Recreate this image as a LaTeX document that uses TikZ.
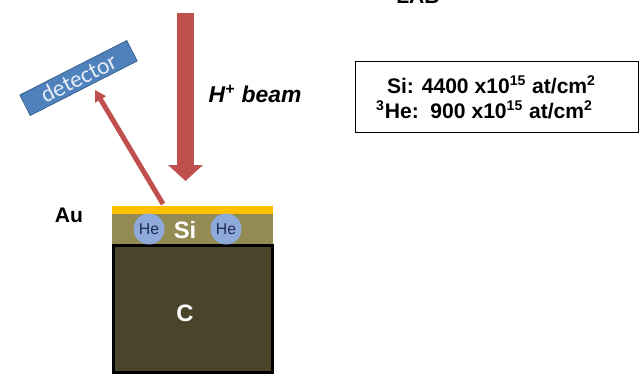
\documentclass[tikz,border=0pt]{standalone}
\usepackage{fontspec}
\setmainfont{Liberation Sans}
\newfontfamily\detfont{Carlito}
\usepackage{xcolor}
\usetikzlibrary{arrows.meta,calc,positioning}
\definecolor{beamred}{HTML}{C0504D}
\definecolor{detblue}{HTML}{4F81BD}
\definecolor{detedge}{HTML}{385D8A}
\definecolor{auyellow}{HTML}{FFC000}
\definecolor{siolive}{HTML}{948A54}
\definecolor{cbrown}{HTML}{4A452A}
\definecolor{heblue}{HTML}{8EAADB}
\definecolor{henavy}{HTML}{1F2A4D}
\tikzset{
    label/.style={font=\bfseries\fontsize{12}{14}\selectfont},
    layerlabel/.style={text=white, font=\bfseries\fontsize{13.5}{15}\selectfont},
    hebubble/.style={circle, fill=heblue, minimum size=0.62cm, inner sep=0pt, text=henavy, font=\fontsize{9}{11}\selectfont}
}

\begin{document}
\begin{tikzpicture}
    \useasboundingbox (0,0) rectangle (12.88,7.64);

    % TARGET: Au, Si and C layers
    \node[rectangle, fill=siolive, minimum width=3.22cm, minimum height=0.64cm, inner sep=0pt] (silayer) at (3.85,3.05) {};
    \node[rectangle, fill=auyellow, minimum width=3.22cm, minimum height=0.16cm, inner sep=0pt] (aulayer) at (3.85,3.44) {};
    \node[rectangle, draw=black, line width=1.2pt, fill=cbrown, minimum width=3.18cm, minimum height=2.54cm, inner sep=0pt] (csub) at (3.86,1.46) {};
    \node[layerlabel] (clabel) at (3.70,1.38) {C};
    \node[layerlabel] (silabel) at (3.70,3.04) {Si};
    \node[hebubble] (heleft) at (2.98,3.06) {He};
    \node[hebubble] (heright) at (4.52,3.06) {He};
    \node[label] (aulabel) at (1.38,3.34) {Au};

    % DETECTOR
    \node[rectangle, draw=detedge, fill=detblue, rotate=27, minimum width=2.40cm, minimum height=0.46cm, inner sep=0pt,
        text=white!85!detblue, font=\detfont\fontsize{13.5}{15}\selectfont] (detector) at (1.57,6.08) {detector};

    % ARROWS
    \coordinate (beamtop) at (3.71,7.38);
    \coordinate (beamtip) at (3.71,4.02);
    \draw[-{Triangle[length=0.32cm,width=0.68cm]}, beamred, line width=0.34cm] (beamtop) -- (beamtip);
    \coordinate (recoilstart) at (3.26,3.56);
    \coordinate (recoiltip) at (1.90,5.84);
    \draw[-{Triangle[length=0.22cm,width=0.24cm]}, beamred, line width=0.10cm] (recoilstart) -- (recoiltip);
    \node[font=\bfseries\itshape\fontsize{13}{15}\selectfont] (beamlabel) at (5.10,5.76) {H\textsuperscript{+} beam};

    % RESULT BOX
    \node[rectangle, draw=black, line width=1pt, minimum width=5.66cm, minimum height=1.42cm, inner sep=0pt] (resultbox) at (9.94,5.70) {};
    \node[label] (siline) at (9.83,5.94) {Si: 4400 x10\textsuperscript{15} at/cm\textsuperscript{2}};
    \node[label] (heline) at (9.69,5.44) {\textsuperscript{3}He:\ \ 900 x10\textsuperscript{15} at/cm\textsuperscript{2}};
    \node[label] (lablabel) at (8.36,7.71) {LAB};
\end{tikzpicture}
\end{document}
